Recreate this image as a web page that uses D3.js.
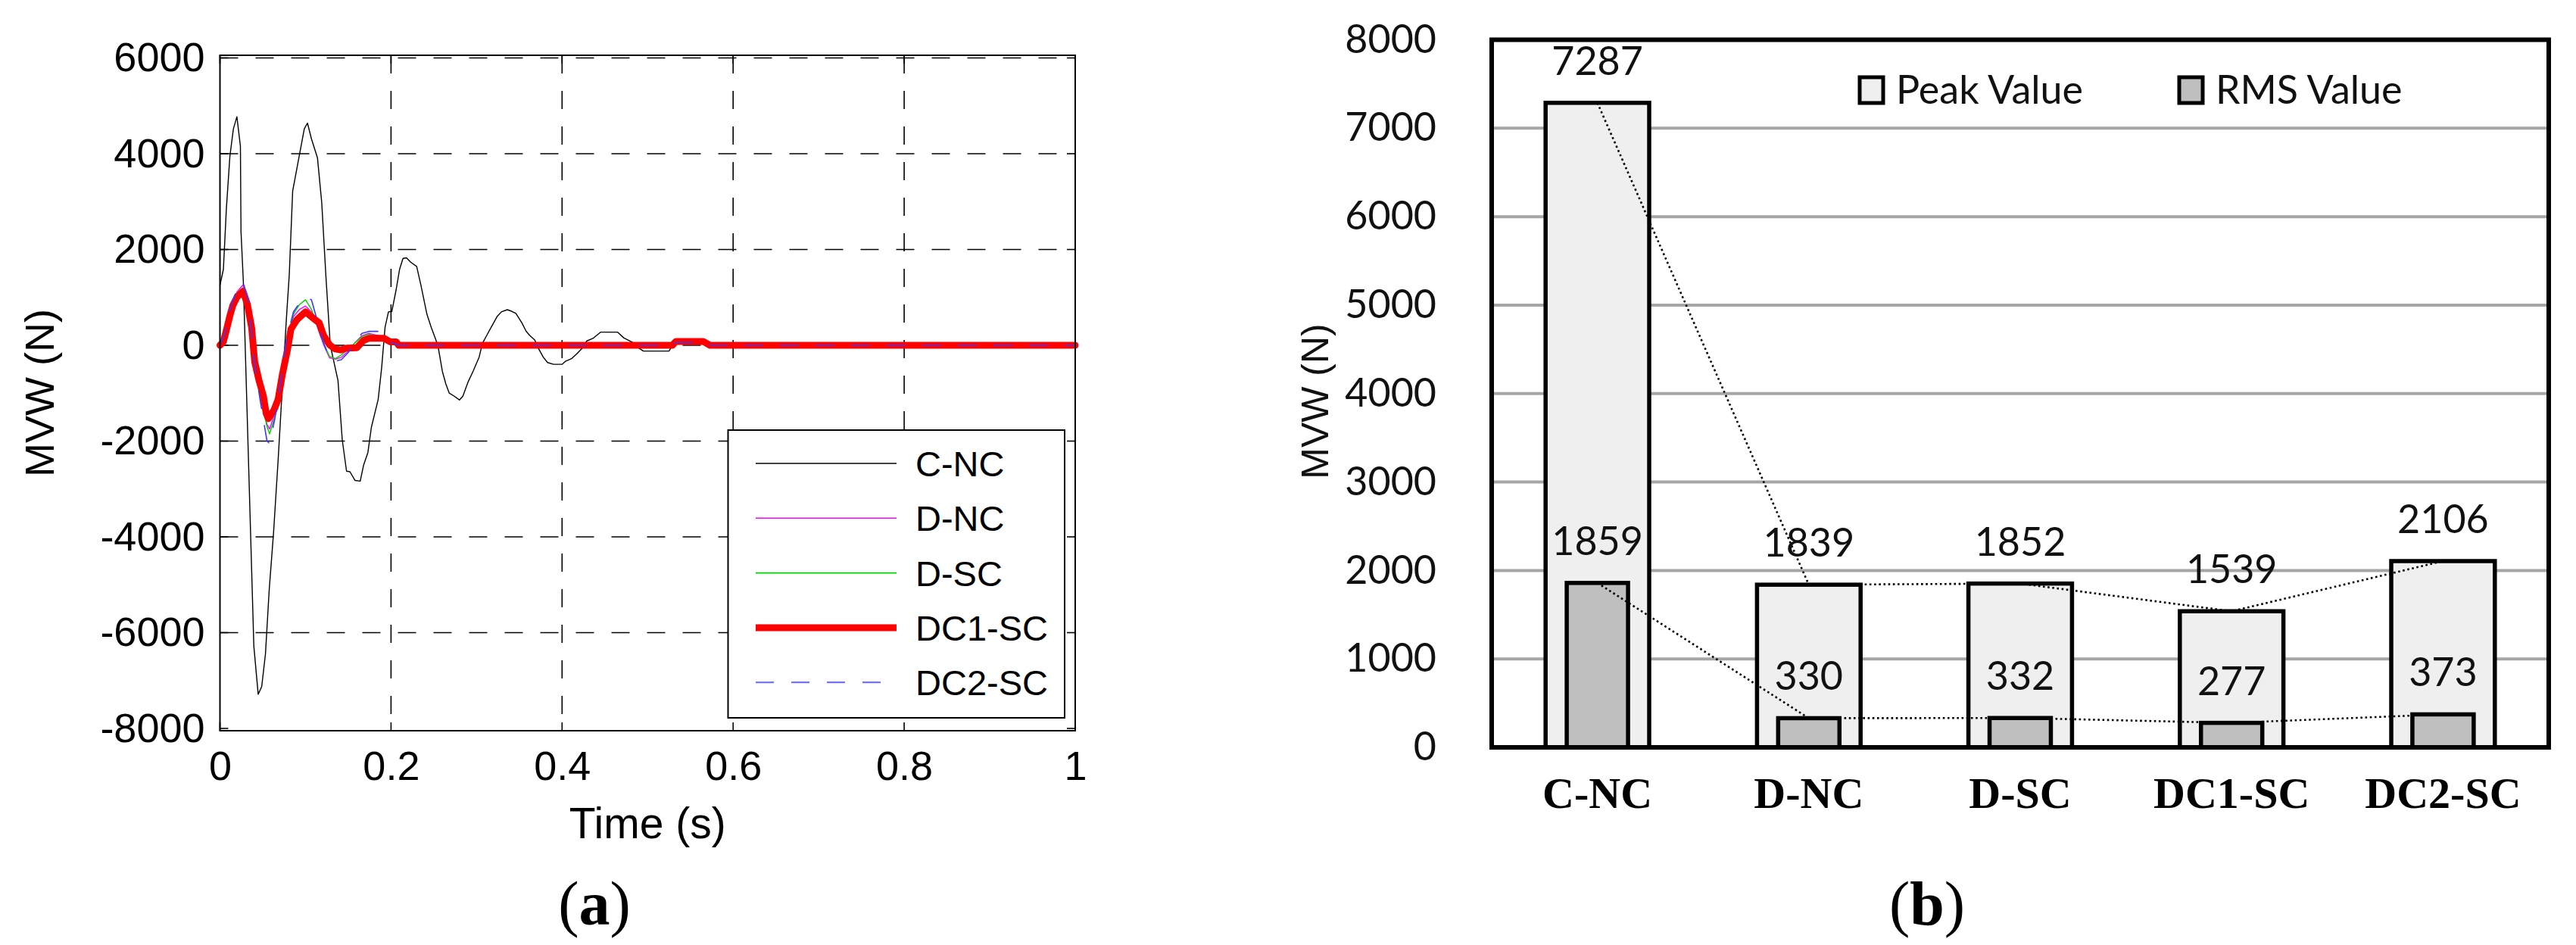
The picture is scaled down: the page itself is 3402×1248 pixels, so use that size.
<!DOCTYPE html>
<html><head><meta charset="utf-8">
<script src="https://cdn.jsdelivr.net/npm/d3@7"></script>
<style>body{margin:0;background:#fff}</style>
</head><body>
<svg id="chart" width="3402" height="1248" xmlns="http://www.w3.org/2000/svg"></svg>
<script>
// ---------------- DATA: panel (a) ----------------
const timeTicks = [0, 0.2, 0.4, 0.6, 0.8, 1];
const timeTickLabels = ["0", "0.2", "0.4", "0.6", "0.8", "1"];
const forceTicks = [-8000, -6000, -4000, -2000, 0, 2000, 4000, 6000];
const seriesNames = ["C-NC", "D-NC", "D-SC", "DC1-SC", "DC2-SC"];

const cTime = [0,0.004,0.0075,0.0116,0.0157,0.0198,0.0239,0.0246,0.0273,0.0396,0.0447,0.0488,0.0532,0.0576,0.0627,0.068,0.073,0.078,0.081,0.085,0.0986,0.1023,0.107,0.114,0.119,0.124,0.129,0.138,0.143,0.148,0.152,0.158,0.164,0.168,0.173,0.177,0.185,0.189,0.193,0.197,0.201,0.206,0.21,0.214,0.218,0.223,0.23,0.235,0.242,0.247,0.252,0.255,0.26,0.264,0.268,0.274,0.28,0.284,0.29,0.296,0.303,0.307,0.312,0.318,0.324,0.329,0.336,0.341,0.346,0.353,0.358,0.362,0.368,0.373,0.378,0.383,0.39,0.4,0.404,0.411,0.417,0.423,0.429,0.436,0.445,0.465,0.472,0.482,0.49,0.495,0.525,0.532,0.565,0.575,0.6,1];
const cNC = [1252,1585,2856,3945,4519,4773,4156,2372,1343,-6278,-7287,-7126,-6442,-5100,-3900,-2400,-850,650,1464,3219,4519,4640,4308,3914,2977,1404,0,-737,-1976,-2628,-2640,-2823,-2836,-2497,-2236,-1715,-1128,-476,372,698,708,1162,1585,1815,1827,1736,1646,1252,647,375,133,-20,-541,-802,-997,-1063,-1141,-1063,-769,-541,-248,46,209,404,600,698,743,711,665,469,293,209,111,-85,-248,-359,-398,-398,-333,-280,-183,-72,91,143,274,274,156,65,-60,-120,-120,80,80,0,0,0];

const dTime = [0,0.006,0.012,0.02,0.027,0.033,0.04,0.047,0.055,0.058,0.064,0.07,0.078,0.086,0.093,0.1,0.107,0.114,0.121,0.128,0.135,0.142,0.15,0.158,0.166,0.174,0.186,0.194,0.2,0.209,0.529,0.533,0.565,0.573,1];
const dNC = [0,250,720,1120,1260,880,-300,-1000,-1650,-1750,-1420,-850,100,600,750,820,700,380,20,-260,-290,-250,-120,60,200,250,200,140,60,0,0,60,60,0,0];
const dSC = [0,250,700,1100,1200,900,-300,-1050,-1700,-1850,-1500,-900,100,650,850,950,750,400,50,-230,-280,-200,-80,50,180,230,190,140,70,0,0,60,60,0,0];
const dc2SC = [0,260,760,1180,1320,950,-330,-1150,-2000,-2050,-1550,-900,150,700,880,1010,950,500,60,-280,-330,-300,-150,60,250,290,290,150,60,0,0,60,60,0,0];

const dc1Time = [0,0.004,0.0075,0.0116,0.015,0.02,0.027,0.032,0.037,0.0406,0.0457,0.0508,0.054,0.0566,0.063,0.068,0.073,0.079,0.083,0.09,0.1,0.109,0.116,0.121,0.128,0.134,0.141,0.148,0.16,0.168,0.174,0.192,0.199,0.206,0.209,0.529,0.533,0.565,0.573,1];
const dc1SC = [0,73,315,617,829,1010,1125,860,372,-346,-737,-1063,-1421,-1530,-1356,-1128,-606,-85,339,535,698,567,469,209,13,-72,-98,-60,-50,103,145,145,73,73,0,0,80,80,0,0];

// ---------------- DATA: panel (b) ----------------
const categories = ["C-NC", "D-NC", "D-SC", "DC1-SC", "DC2-SC"];
const peakValues = [7287, 1839, 1852, 1539, 2106];
const rmsValues = [1859, 330, 332, 277, 373];
const mvwTicks = [0, 1000, 2000, 3000, 4000, 5000, 6000, 7000, 8000];
const barLegend = ["Peak Value", "RMS Value"];

// ---------------- DRAW ----------------
const svg = d3.select("#chart");
svg.append("rect").attr("width", 3402).attr("height", 1248).attr("fill", "#fff");

const SANS = "'Liberation Sans', Arial, Helvetica, sans-serif";
const CAL = "Lato, 'Open Sans', sans-serif";
const SERIF = "'Liberation Serif', 'Times New Roman', serif";

// ===== Panel (a) =====
const L = {x0: 290.5, x1: 1420, y0: 73, y1: 965};
const xL = d3.scaleLinear().domain([0, 1]).range([L.x0, L.x1]);
const yL = d3.scaleLinear().domain([-8000, 6000]).range([962, 76.5]);
const gA = svg.append("g");

gA.selectAll("line.hg").data(forceTicks.filter(d => d > -8000)).join("line")
  .attr("class", "hg")
  .attr("x1", L.x0).attr("x2", L.x1)
  .attr("y1", d => yL(d)).attr("y2", d => yL(d))
  .attr("stroke", "#000").attr("stroke-width", 1.6).attr("stroke-dasharray", "24,23");
gA.selectAll("line.vg").data(timeTicks.filter(d => d > 0 && d < 1)).join("line")
  .attr("class", "vg")
  .attr("x1", d => xL(d)).attr("x2", d => xL(d))
  .attr("y1", L.y0).attr("y2", L.y1)
  .attr("stroke", "#000").attr("stroke-width", 1.6).attr("stroke-dasharray", "24,23");

// inward tick marks
const tk = 11;
gA.selectAll("line.tyl").data(forceTicks).join("line").attr("class", "tyl")
  .attr("x1", L.x0).attr("x2", L.x0 + tk).attr("y1", d => yL(d)).attr("y2", d => yL(d))
  .attr("stroke", "#000").attr("stroke-width", 1.6);
gA.selectAll("line.tyr").data(forceTicks).join("line").attr("class", "tyr")
  .attr("x1", L.x1).attr("x2", L.x1 - tk).attr("y1", d => yL(d)).attr("y2", d => yL(d))
  .attr("stroke", "#000").attr("stroke-width", 1.6);
gA.selectAll("line.txb").data(timeTicks).join("line").attr("class", "txb")
  .attr("x1", d => xL(d)).attr("x2", d => xL(d)).attr("y1", L.y1).attr("y2", L.y1 - tk)
  .attr("stroke", "#000").attr("stroke-width", 1.6);
gA.selectAll("line.txt").data(timeTicks).join("line").attr("class", "txt")
  .attr("x1", d => xL(d)).attr("x2", d => xL(d)).attr("y1", L.y0).attr("y2", L.y0 + tk)
  .attr("stroke", "#000").attr("stroke-width", 1.6);

// series
const lineL = d3.line().x(d => xL(d[0])).y(d => yL(d[1]));
const seriesData = [
  {name: "C-NC", t: cTime, v: cNC, color: "#000", w: 1.4, dash: null},
  {name: "D-NC", t: dTime, v: dNC, color: "#ff00ff", w: 1.4, dash: null},
  {name: "D-SC", t: dTime, v: dSC, color: "#00d000", w: 1.4, dash: null},
  {name: "DC1-SC", t: dc1Time, v: dc1SC, color: "#ff0000", w: 9, dash: null},
  {name: "DC2-SC", t: dTime, v: dc2SC, color: "#3a3aff", w: 1.6, dash: "24,23"}
];
seriesData.forEach(s => {
  gA.append("path").datum(d3.zip(s.t, s.v))
    .attr("d", lineL).attr("fill", "none")
    .attr("stroke", s.color).attr("stroke-width", s.w)
    .attr("stroke-linejoin", "round").attr("stroke-linecap", "round")
    .attr("stroke-dasharray", s.dash);
});

// box
gA.append("rect").attr("x", L.x0).attr("y", L.y0)
  .attr("width", L.x1 - L.x0).attr("height", L.y1 - L.y0)
  .attr("fill", "none").attr("stroke", "#000").attr("stroke-width", 2);

// axes labels
const axLy = gA.append("g").attr("transform", `translate(${L.x0},0)`)
  .call(d3.axisLeft(yL).tickValues(forceTicks).tickSize(0).tickPadding(20).tickFormat(d => String(d)));
axLy.select(".domain").remove();
axLy.selectAll("text").attr("font-family", SANS).attr("font-size", 54).attr("fill", "#000");

const axLx = gA.append("g").attr("transform", `translate(0,${L.y1})`)
  .call(d3.axisBottom(xL).tickValues(timeTicks).tickSize(0).tickPadding(27).tickFormat((d, i) => timeTickLabels[i]));
axLx.select(".domain").remove();
axLx.selectAll("text").attr("font-family", SANS).attr("font-size", 54).attr("fill", "#000");

gA.append("text").attr("transform", `translate(52,${(L.y0 + L.y1) / 2}) rotate(-90)`)
  .attr("text-anchor", "middle").attr("dominant-baseline", "central")
  .attr("font-family", SANS).attr("font-size", 54).text("MVW (N)");
gA.append("text").attr("x", (L.x0 + L.x1) / 2).attr("y", 1107)
  .attr("text-anchor", "middle").attr("font-family", SANS).attr("font-size", 57).text("Time (s)");

// legend (a)
const lgA = gA.append("g");
lgA.append("rect").attr("x", 961.5).attr("y", 568).attr("width", 444.5).attr("height", 380)
  .attr("fill", "#fff").attr("stroke", "#000").attr("stroke-width", 2);
seriesData.forEach((s, i) => {
  const yy = 612 + i * 72.3;
  lgA.append("line").attr("x1", 998).attr("x2", s.dash ? 1170 : 1184).attr("y1", yy).attr("y2", yy)
    .attr("stroke", s.name === "DC2-SC" ? "#7474f4" : s.color)
    .attr("stroke-width", s.name === "DC1-SC" ? 9 : (s.dash ? 2.2 : 1.6))
    .attr("stroke-dasharray", s.dash);
  lgA.append("text").attr("x", 1209).attr("y", yy + 17)
    .attr("font-family", SANS).attr("font-size", 47).attr("fill", "#000").text(seriesNames[i]);
});

// caption (a)
const capA = svg.append("text").attr("x", 785).attr("y", 1221).attr("text-anchor", "middle")
  .attr("font-family", SERIF).attr("font-size", 82);
capA.append("tspan").text("(");
capA.append("tspan").attr("font-weight", "bold").text("a");
capA.append("tspan").text(")");

// ===== Panel (b) =====
const R = {x0: 1970, x1: 3366, y0: 52.5, y1: 987};
const xR = d3.scaleBand().domain(categories).range([R.x0, R.x1]);
const yR = d3.scaleLinear().domain([0, 8000]).range([R.y1, R.y0]);
const gB = svg.append("g");

gB.selectAll("line.grid").data(mvwTicks.filter(d => d > 0 && d < 8000)).join("line")
  .attr("class", "grid")
  .attr("x1", R.x0).attr("x2", R.x1).attr("y1", d => yR(d)).attr("y2", d => yR(d))
  .attr("stroke", "#a6a6a6").attr("stroke-width", 4);

const cx = c => xR(c) + xR.bandwidth() / 2;
const peakW = xR.bandwidth() * 0.49;
const rmsW = xR.bandwidth() * 0.29;

gB.selectAll("rect.peak").data(categories).join("rect").attr("class", "peak")
  .attr("x", c => cx(c) - peakW / 2).attr("width", peakW)
  .attr("y", (c, i) => yR(peakValues[i])).attr("height", (c, i) => yR(0) - yR(peakValues[i]))
  .attr("fill", "#efefef").attr("stroke", "#000").attr("stroke-width", 5.5);
gB.selectAll("rect.rms").data(categories).join("rect").attr("class", "rms")
  .attr("x", c => cx(c) - rmsW / 2).attr("width", rmsW)
  .attr("y", (c, i) => yR(rmsValues[i])).attr("height", (c, i) => yR(0) - yR(rmsValues[i]))
  .attr("fill", "#bfbfbf").attr("stroke", "#000").attr("stroke-width", 5.5);

const trend = d3.line().x(d => d[0]).y(d => d[1]);
[peakValues, rmsValues].forEach(vals => {
  gB.append("path").datum(categories.map((c, i) => [cx(c), yR(vals[i])]))
    .attr("d", trend).attr("fill", "none").attr("stroke", "#000")
    .attr("stroke-width", 2.6).attr("stroke-dasharray", "2.6,3.6");
});

// value labels
[peakValues, rmsValues].forEach(vals => {
  gB.selectAll(null).data(categories).join("text")
    .attr("x", c => cx(c)).attr("y", (c, i) => yR(vals[i]) - 37)
    .attr("text-anchor", "middle").attr("font-family", CAL).attr("font-size", 52).attr("fill", "#111")
    .text((c, i) => vals[i]);
});

// box
gB.append("rect").attr("x", R.x0).attr("y", R.y0).attr("width", R.x1 - R.x0).attr("height", R.y1 - R.y0)
  .attr("fill", "none").attr("stroke", "#000").attr("stroke-width", 6);

// axes
const axRy = gB.append("g").attr("transform", `translate(${R.x0},0)`)
  .call(d3.axisLeft(yR).tickValues(mvwTicks).tickSize(0).tickPadding(73).tickFormat(d => String(d)));
axRy.select(".domain").remove();
axRy.selectAll("text").attr("font-family", CAL).attr("font-size", 52).attr("fill", "#111");

const axRx = gB.append("g").attr("transform", `translate(0,${R.y1})`)
  .call(d3.axisBottom(xR).tickSize(0).tickPadding(39));
axRx.select(".domain").remove();
axRx.selectAll("text").attr("font-family", SERIF).attr("font-weight", "bold")
  .attr("font-size", 58).attr("fill", "#000");

gB.append("text").attr("transform", `translate(1737,530) rotate(-90)`)
  .attr("text-anchor", "middle").attr("dominant-baseline", "central")
  .attr("font-family", SANS).attr("font-size", 50).attr("fill", "#111").text("MVW (N)");

// legend (b)
const lgB = gB.append("g");
[{x: 2456, fill: "#efefef"}, {x: 2878, fill: "#bfbfbf"}].forEach((m, i) => {
  lgB.append("rect").attr("x", m.x).attr("y", 102).attr("width", 31).attr("height", 34)
    .attr("fill", m.fill).attr("stroke", "#000").attr("stroke-width", 5);
  lgB.append("text").attr("x", m.x + 48).attr("y", 137)
    .attr("font-family", CAL).attr("font-size", 52).attr("fill", "#111").text(barLegend[i]);
});

// caption (b)
const capB = svg.append("text").attr("x", 2545).attr("y", 1221).attr("text-anchor", "middle")
  .attr("font-family", SERIF).attr("font-size", 82);
capB.append("tspan").text("(");
capB.append("tspan").attr("font-weight", "bold").text("b");
capB.append("tspan").text(")");
</script>
</body></html>
